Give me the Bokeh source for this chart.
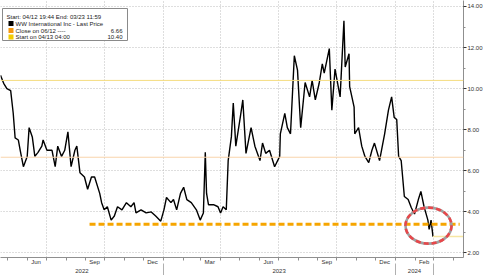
import pandas as pd
from bokeh.plotting import figure
from bokeh.models import (Range1d, FixedTicker, LinearAxis, Label, BoxAnnotation,
                          Span, PrintfTickFormatter)
from bokeh.embed import file_html
from bokeh.resources import INLINE

# ---------------- data ----------------
dates = [
    "2022-04-20", "2022-04-25", "2022-04-30", "2022-05-06", "2022-05-10", "2022-05-13",
    "2022-05-18", "2022-05-21", "2022-05-26", "2022-06-01", "2022-06-04", "2022-06-09",
    "2022-06-13", "2022-06-18", "2022-06-24", "2022-06-26", "2022-07-02", "2022-07-10",
    "2022-07-15", "2022-07-19", "2022-07-25", "2022-07-30", "2022-08-04", "2022-08-09",
    "2022-08-15", "2022-08-18", "2022-08-23", "2022-08-30", "2022-09-04", "2022-09-10",
    "2022-09-15", "2022-09-23", "2022-09-26", "2022-09-30", "2022-10-05", "2022-10-11",
    "2022-10-16", "2022-10-21", "2022-10-28", "2022-11-04", "2022-11-11", "2022-11-16",
    "2022-11-19", "2022-11-27", "2022-12-05", "2022-12-13", "2022-12-20", "2022-12-28",
    "2023-01-02", "2023-01-06", "2023-01-13", "2023-01-17", "2023-01-22", "2023-01-28",
    "2023-02-02", "2023-02-07", "2023-02-14", "2023-02-22", "2023-02-28", "2023-03-05",
    "2023-03-08", "2023-03-10", "2023-03-13", "2023-03-21", "2023-03-28", "2023-04-01",
    "2023-04-05", "2023-04-10", "2023-04-13", "2023-04-18", "2023-04-21", "2023-04-25",
    "2023-05-02", "2023-05-06", "2023-05-11", "2023-05-19", "2023-05-25", "2023-06-02",
    "2023-06-06", "2023-06-11", "2023-06-17", "2023-06-25", "2023-07-03", "2023-07-04",
    "2023-07-11", "2023-07-15", "2023-07-20", "2023-07-26", "2023-07-31", "2023-08-05",
    "2023-08-12", "2023-08-19", "2023-08-23", "2023-08-28", "2023-09-03", "2023-09-08",
    "2023-09-11", "2023-09-19", "2023-09-23", "2023-09-28", "2023-10-06", "2023-10-12",
    "2023-10-14", "2023-10-20", "2023-10-21", "2023-10-28", "2023-10-29", "2023-11-04",
    "2023-11-09", "2023-11-14", "2023-11-20", "2023-11-25", "2023-11-29", "2023-12-07",
    "2023-12-15", "2023-12-21", "2023-12-26", "2023-12-30", "2024-01-03", "2024-01-06",
    "2024-01-10", "2024-01-15", "2024-01-21", "2024-01-26", "2024-01-31", "2024-02-06",
    "2024-02-10", "2024-02-15", "2024-02-21", "2024-02-23", "2024-02-26", "2024-02-29",
]
prices = [
    10.65, 10.26, 10.00, 9.90, 8.80, 7.60,
    7.50, 7.00, 6.20, 6.70, 8.10, 7.65,
    6.70, 6.90, 7.20, 7.50, 7.00, 7.00,
    6.20, 7.20, 6.70, 7.00, 7.90, 6.20,
    7.00, 7.20, 5.90, 5.70, 5.10, 5.70,
    5.70, 4.90, 4.45, 4.10, 4.25, 3.60,
    3.80, 4.25, 4.10, 4.45, 4.25, 4.45,
    3.95, 4.10, 3.95, 4.00, 3.80, 3.55,
    4.10, 4.70, 4.45, 4.60, 4.10, 4.90,
    5.20, 4.60, 4.45, 4.10, 3.60, 3.95,
    6.90, 4.90, 4.35, 4.35, 4.25, 3.95,
    4.25, 4.10, 6.50, 7.65, 9.30, 7.20,
    8.60, 9.45, 6.85, 8.10, 7.20, 6.50,
    7.35, 6.85, 7.00, 6.20, 6.70, 7.80,
    8.80, 8.10, 7.80, 11.60, 10.90, 8.10,
    10.30, 9.60, 10.40, 9.45, 10.25, 11.20,
    10.75, 11.95, 8.95, 10.95, 9.60, 13.30,
    11.05, 11.70, 10.10, 9.10, 7.80, 8.10,
    7.20, 6.70, 6.40, 7.00, 7.35, 6.50,
    7.80, 8.95, 9.60, 8.60, 8.50, 6.70,
    6.50, 4.75, 4.60, 4.20, 3.90, 4.60,
    5.00, 4.25, 3.60, 3.15, 3.60, 2.80,
]

close_level = 6.66
start_level = 10.40
support_level = 3.40
support_start = "2022-09-07"
support_end = "2024-04-11"
circle_date = "2024-02-22"
circle_price = 3.33

x_start, x_end = "2022-04-20", "2024-04-17"
y_min, y_max = 1.78, 14.29

month_tick_dates = ["2022-06-15", "2022-09-15", "2022-12-15", "2023-03-15",
                    "2023-06-15", "2023-09-15", "2023-12-15", "2024-02-15"]
month_tick_labels = ["Jun", "Sep", "Dec", "Mar", "Jun", "Sep", "Dec", "Feb"]
year_tick_dates = ["2022-08-26", "2023-07-02", "2024-01-31"]
year_tick_labels = ["2022", "2023", "2024"]
year_breaks = ["2023-01-01", "2024-01-01", "2024-03-01"]
grid_dates = ["2022-07-01", "2022-10-01", "2023-01-01", "2023-04-01",
              "2023-07-01", "2023-10-01", "2024-01-01", "2024-03-01"]
y_ticks = [2, 4, 6, 8, 10, 12, 14]
y_minor_ticks = [3, 5, 7, 9, 11, 13]

legend_header = "Start: 04/12 19:44 End: 03/23 11:59"
legend_names = ["WW International Inc - Last Price", "Close on 06/12 ----", "Start on 04/13 04:00"]
legend_values = ["", "6.66", "10.40"]
legend_colors = ["#000000", "#f5970f", "#f2cc00"]


def ms(s):
    return int(pd.Timestamp(s).value // 10**6)


month_starts = [ms(d) for d in pd.date_range("2022-05-01", "2024-04-01", freq="MS")]

FONT = "Liberation Sans"
AXIS_COLOR = "#8f8f8f"
TEXT_COLOR = "#333333"

p = figure(width=485, height=275, x_axis_type="datetime", x_axis_location=None,
           y_axis_location="right",
           x_range=Range1d(ms(x_start), ms(x_end)), y_range=Range1d(y_min, y_max),
           toolbar_location=None, output_backend="svg",
           min_border_left=0, min_border_top=0, min_border_right=0, min_border_bottom=0)
p.outline_line_color = None
p.background_fill_color = "white"
p.border_fill_color = "white"

# grids
p.xgrid.ticker = FixedTicker(ticks=[ms(d) for d in grid_dates])
p.ygrid.ticker = FixedTicker(ticks=y_ticks)
for g in (p.xgrid, p.ygrid):
    g.grid_line_color = "#bdbdbd"
    g.grid_line_dash = "1 2"
    g.grid_line_width = 1

# right y-axis
ya = p.yaxis[0]
ya.ticker = FixedTicker(ticks=y_ticks, minor_ticks=y_minor_ticks)
ya.formatter = PrintfTickFormatter(format="%.2f")
ya.axis_line_color = AXIS_COLOR
ya.major_tick_line_color = "#333333"
ya.minor_tick_line_color = AXIS_COLOR
ya.major_tick_out = 3
ya.major_tick_in = 0
ya.minor_tick_out = 2
ya.minor_tick_in = 0
ya.major_label_standoff = 1
ya.major_label_text_font = FONT
ya.major_label_text_font_size = "6px"
ya.major_label_text_color = TEXT_COLOR

# month axis
mt = [ms(d) for d in month_tick_dates]
month_axis = LinearAxis(ticker=FixedTicker(ticks=mt, minor_ticks=month_starts),
                        major_label_overrides=dict(zip(mt, month_tick_labels)))
month_axis.axis_line_color = AXIS_COLOR
month_axis.major_tick_out = 0
month_axis.major_tick_in = 0
month_axis.minor_tick_out = 3
month_axis.minor_tick_in = 0
month_axis.minor_tick_line_color = AXIS_COLOR
month_axis.major_label_standoff = -2
month_axis.major_label_text_font = FONT
month_axis.major_label_text_font_size = "6px"
month_axis.major_label_text_color = TEXT_COLOR
p.add_layout(month_axis, "below")

# year axis
yt = [ms(d) for d in year_tick_dates]
year_axis = LinearAxis(ticker=FixedTicker(ticks=yt, minor_ticks=[ms(d) for d in year_breaks]),
                       major_label_overrides=dict(zip(yt, year_tick_labels)))
year_axis.axis_line_color = None
year_axis.major_tick_out = 0
year_axis.major_tick_in = 0
year_axis.minor_tick_out = 9
year_axis.minor_tick_in = 4
year_axis.minor_tick_line_color = "#b0b0b0"
year_axis.major_label_standoff = -8
year_axis.major_label_text_font = FONT
year_axis.major_label_text_font_size = "6px"
year_axis.major_label_text_color = TEXT_COLOR
p.add_layout(year_axis, "below")

# reference levels
p.add_layout(Span(location=start_level, dimension="width", line_color="#f4dc80", line_width=1))
p.add_layout(Span(location=close_level, dimension="width", line_color="#f9d4ab", line_width=1))

# price line
dt = pd.to_datetime(dates)
p.line(dt, prices, line_color="black", line_width=1.4)

# last-price marker line
p.segment(x0=[dt[-1]], y0=[prices[-1]], x1=[pd.Timestamp(x_end)], y1=[prices[-1]],
          line_color="#f6e6a3", line_width=1.6)

# support dashed line
p.line(pd.to_datetime([support_start, support_end]), [support_level, support_level],
       line_color="#f6a500", line_width=3, line_dash="6 3")

# highlight ellipse
p.ellipse(x=[pd.Timestamp(circle_date)], y=[circle_price], width=46, height=36,
          width_units="screen", height_units="screen",
          fill_color=None, line_color="#a0a0a0", line_width=2.6)
p.ellipse(x=[pd.Timestamp(circle_date)], y=[circle_price], width=46, height=36,
          width_units="screen", height_units="screen",
          fill_color=None, line_color="#e8474a", line_width=2.6, line_dash="5 3")

# legend box (screen units, origin at frame bottom-left)
H = 256
p.add_layout(BoxAnnotation(left=2, right=127, top=H - 7, bottom=H - 39,
                           left_units="screen", right_units="screen",
                           top_units="screen", bottom_units="screen",
                           fill_color="white", fill_alpha=1,
                           line_color="#8a8a8a", line_alpha=1, line_width=1))
p.add_layout(Label(x=6, y=H - 15, x_units="screen", y_units="screen", text=legend_header,
                   text_font=FONT, text_font_size="6px", text_color="#222222",
                   text_baseline="middle"))
rows_y = [22, 29, 35.5]
for name, val, col, ry in zip(legend_names, legend_values, legend_colors, rows_y):
    p.add_layout(BoxAnnotation(left=8, right=13, top=H - ry + 2.5, bottom=H - ry - 2.5,
                               left_units="screen", right_units="screen",
                               top_units="screen", bottom_units="screen",
                               fill_color=col, fill_alpha=1, line_color=None))
    p.add_layout(Label(x=15, y=H - ry, x_units="screen", y_units="screen", text=name,
                       text_font=FONT, text_font_size="6px", text_color="#222222",
                       text_baseline="middle"))
    if val:
        p.add_layout(Label(x=122, y=H - ry, x_units="screen", y_units="screen", text=val,
                           text_font=FONT, text_font_size="6px", text_color="#222222",
                           text_baseline="middle", text_align="right"))

open("out.html", "w").write(file_html(p, INLINE))
